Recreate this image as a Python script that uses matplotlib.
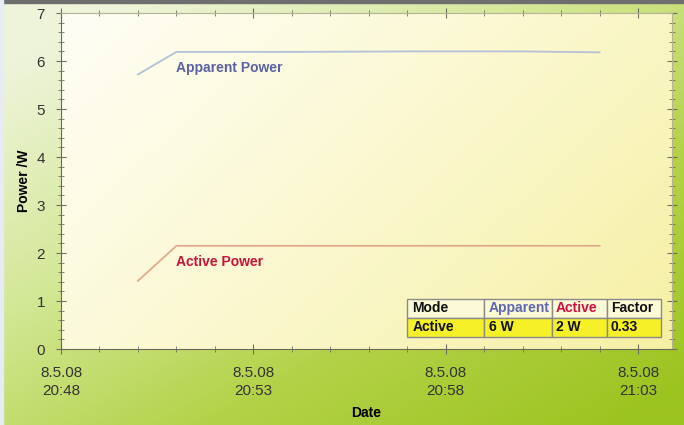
import numpy as np
import pandas as pd
import matplotlib
matplotlib.use("Agg")
import matplotlib.pyplot as plt
import matplotlib.dates as mdates
from matplotlib.colors import LinearSegmentedColormap
from matplotlib.ticker import MultipleLocator

plt.rcParams['font.family'] = ['Liberation Sans', 'DejaVu Sans']

# readings, one per minute
times = ["2008-05-08 20:50", "2008-05-08 20:51", "2008-05-08 20:54", "2008-05-08 20:57",
         "2008-05-08 21:00", "2008-05-08 21:02"]
apparent = [5.72, 6.19, 6.19, 6.20, 6.20, 6.18]
active = [1.42, 2.15, 2.15, 2.15, 2.15, 2.15]

x_start = "2008-05-08 20:48"
x_end = "2008-05-08 21:03:53"

table_cols = ["Mode", "Apparent", "Active", "Factor"]
table_row = ["Active", "6 W", "2 W", "0.33"]

t = pd.to_datetime(times)

fig = plt.figure(figsize=(6.84, 4.25), dpi=100)

# background gradient (green outside)
bg = fig.add_axes([0, 0, 1, 1], zorder=-10)
gx, gy = np.meshgrid(np.linspace(0, 1, 300), np.linspace(0, 1, 200))
g = np.clip(0.55 * gx + 0.6 * gy - 0.1, 0, 1)
green = LinearSegmentedColormap.from_list("g", ["#eef4da", "#d4e898", "#b4d248", "#9cc420"])
bg.imshow(g, cmap=green, aspect="auto", extent=[0, 1, 0, 1], origin="upper")
bg.axhspan(0.993, 1, color="#6e6e6e")
bg.axvspan(0, 0.005, color="#e6ecf2")
bg.set_xlim(0, 1)
bg.set_ylim(0, 1)
bg.axis("off")

ax = fig.add_axes([0.0892, 0.1788, 0.8933, 0.7906])
ax.set_facecolor("none")

# cream gradient inside the plot area
cream = LinearSegmentedColormap.from_list("c", ["#fefef6", "#fbf8d0", "#f6f0a4"])
h = np.clip(0.7 * gx + 0.4 * gy, 0, 1.1) / 1.1
ax.imshow(h, cmap=cream, aspect="auto", extent=[0, 1, 0, 1], origin="upper",
          transform=ax.transAxes, zorder=0)

ax.plot(t, apparent, color="#b4c0d8", lw=1.3, zorder=2)
ax.plot(t, active, color="#e2aa8c", lw=1.3, zorder=2)

ax.text(pd.Timestamp("2008-05-08 20:51"), 5.85, "Apparent Power", color="#5b62a4",
        fontsize=10, fontweight="bold", va="center")
ax.text(pd.Timestamp("2008-05-08 20:51"), 1.81, "Active Power", color="#c8143c",
        fontsize=10, fontweight="bold", va="center")

ax.set_xlim(pd.Timestamp(x_start), pd.Timestamp(x_end))
ax.set_ylim(0, 7)

ax.xaxis.set_major_locator(mdates.MinuteLocator(byminute=[48, 53, 58, 3]))
ax.xaxis.set_minor_locator(mdates.MinuteLocator())
ax.xaxis.set_major_formatter(mdates.DateFormatter("%-d.%-m.%y\n%H:%M"))
ax.yaxis.set_major_locator(MultipleLocator(1))
ax.yaxis.set_minor_locator(MultipleLocator(0.2))

ax.tick_params(which="both", direction="inout", top=True, right=True, color="#707060",
               labelsize=11, labelcolor="#333333")
ax.tick_params(which="major", length=7)
ax.tick_params(which="minor", length=4)
ax.tick_params(axis="y", pad=8)
ax.tick_params(axis="x", pad=9)
for lab in ax.get_xticklabels():
    lab.set_linespacing(1.3)

for s in ["left", "bottom"]:
    ax.spines[s].set_color("#6a6a58")
for s in ["top", "right"]:
    ax.spines[s].set_color("#b4b494")

ax.set_ylabel("Power /W", fontsize=10, fontweight="bold", labelpad=4)
ax.set_xlabel("Date", fontsize=10, fontweight="bold", labelpad=6)

tbl = ax.table(cellText=[table_cols, table_row], bbox=[0.566, 0.036, 0.416, 0.113],
               cellLoc="left", colWidths=[77, 68, 55, 54])
tbl.auto_set_font_size(False)
col_colors = ["#111111", "#6068b0", "#d01040", "#111111"]
for (r, c), cell in tbl.get_celld().items():
    cell.set_edgecolor("#8a8a8a")
    cell.set_linewidth(1)
    cell.set_facecolor("#fbf9d6" if r == 0 else "#f6f028")
    txt = cell.get_text()
    txt.set_fontsize(10)
    txt.set_fontweight("bold")
    txt.set_color(col_colors[c] if r == 0 else "#111111")
    cell.PAD = 0.07
tbl.set_zorder(5)

fig.savefig("out.png", dpi=100)
